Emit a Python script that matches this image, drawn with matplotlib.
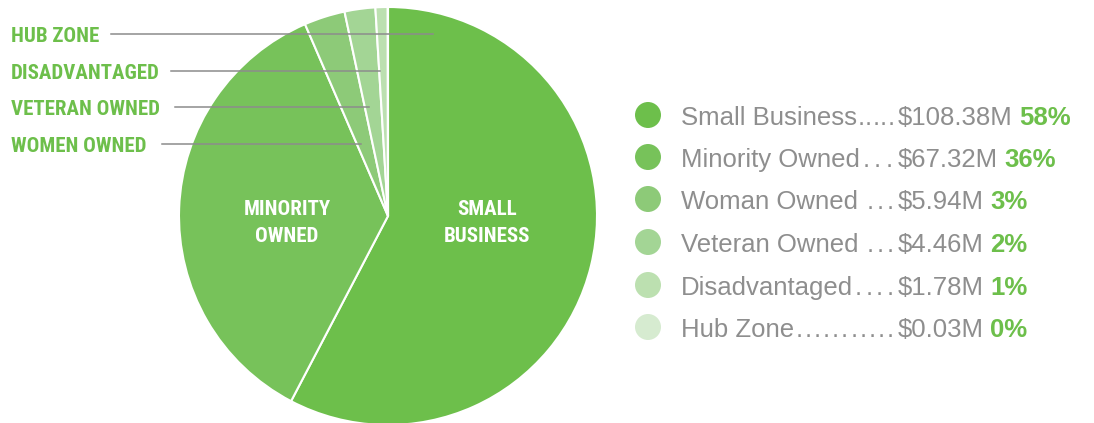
import matplotlib
matplotlib.use("Agg")
import matplotlib.pyplot as plt
from matplotlib.patches import Circle

categories = ["Small Business", "Minority Owned", "Woman Owned", "Veteran Owned", "Disadvantaged", "Hub Zone"]
legend_names = ["Small Business", "Minority Owned", "Woman Owned ", "Veteran Owned ", "Disadvantaged", "Hub Zone"]
legend_dots = [5, 3, 3, 3, 4, 11]
values = [108.38, 67.32, 5.94, 4.46, 1.78, 0.03]
amount_labels = ["$108.38M", "$67.32M", "$5.94M", "$4.46M", "$1.78M", "$0.03M"]
pct_labels = ["58%", "36%", "3%", "2%", "1%", "0%"]
colors = ["#6dbf4b", "#77c25a", "#8dca78", "#a3d595", "#bce0b0", "#d6ebd0"]
callout_labels = ["HUB ZONE", "DISADVANTAGED", "VETERAN OWNED", "WOMEN OWNED"]

W, H = 1094, 423
fig = plt.figure(figsize=(W/100, H/100), dpi=100)
ax = fig.add_axes([0, 0, 1, 1])

cx, cy, r = 388, H - 216, 209
ax.pie(values, colors=colors, startangle=90, counterclock=False,
       center=(cx, cy), radius=r,
       wedgeprops=dict(edgecolor="white", linewidth=1.5))
ax.set_xlim(0, W)
ax.set_ylim(0, H)
ax.set_aspect("auto")
ax.axis("off")

cond = ["Liberation Sans Narrow", "Roboto Condensed", "DejaVu Sans"]
for txt, x, y in [("MINORITY", 287, 215), ("OWNED", 287, 242), ("SMALL", 487, 215), ("BUSINESS", 487, 242)]:
    ax.text(x, H - y, txt, color="white", fontsize=15, fontweight="bold",
            family=cond, ha="center", va="baseline")

green = "#6dbf4b"
callout_y = [34, 71, 107, 144]
line_x0 = [111, 171, 175, 162]
line_x1 = [433, 380, 369, 361]
for lab, y, x0, x1 in zip(callout_labels, callout_y, line_x0, line_x1):
    ax.text(11, H - (y + 8), lab, color=green, fontsize=15, fontweight="bold", family=cond,
            ha="left", va="baseline")
    ax.plot([x0, x1], [H - y, H - y], color="#8c8c8c", linewidth=1.1)

gray = "#8e8e8e"
leg_y = [115, 157, 199, 242, 285, 327]
sans = ["Liberation Sans", "DejaVu Sans"]
fs = 18.5
fig.canvas.draw()
renderer = fig.canvas.get_renderer()
dot_w = ax.text(0, 0, ".", fontsize=fs, family=sans).get_window_extent(renderer=renderer).width
ax.texts[-1].remove()
dots_end = 895
for name, nd, amt, pct, col, y in zip(legend_names, legend_dots, amount_labels, pct_labels, colors, leg_y):
    base = H - (y + 10)
    ax.add_patch(Circle((648, H - y), 13, color=col, ec="none"))
    tn = ax.text(681, base, name, color=gray, fontsize=fs, family=sans,
                 ha="left", va="baseline")
    nb = tn.get_window_extent(renderer=renderer)
    step = (dots_end - nb.x1) / nd
    for k in range(nd):
        ax.text(nb.x1 + k * step + (step - dot_w) / 2, base, ".", color=gray, fontsize=fs,
                family=sans, ha="left", va="baseline")
    t = ax.text(898, base, amt, color=gray, fontsize=fs, family=sans,
                ha="left", va="baseline")
    bb = t.get_window_extent(renderer=renderer)
    ax.text(bb.x1 + 6, base, pct, color=green, fontsize=fs, family=sans,
            fontweight="bold", ha="left", va="baseline")

fig.savefig("out.png", dpi=100)
